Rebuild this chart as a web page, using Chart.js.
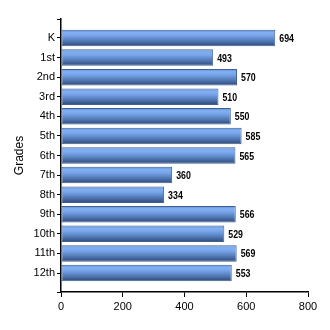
<!DOCTYPE html>
<html>
<head>
<meta charset="utf-8">
<style>
  html, body { margin: 0; padding: 0; background: #fff; }
  #wrap { width: 330px; height: 330px; }
</style>
<script src="https://cdn.jsdelivr.net/npm/chart.js@4/dist/chart.umd.min.js"></script>
</head>
<body>
<div id="wrap"><canvas id="gradesChart" width="330" height="330"></canvas></div>
<script>
// --- data ---
const grades = ['K', '1st', '2nd', '3rd', '4th', '5th', '6th', '7th', '8th', '9th', '10th', '11th', '12th'];
const counts = [694, 493, 570, 510, 550, 585, 565, 360, 334, 566, 529, 569, 553];
const xTicks = [0, 200, 400, 600, 800];

const BAR_PCT = 0.87;
const Y_MIN = -0.97, Y_MAX = grades.length - 1 + 0.97;

// vertical gradient for each bar, built from the y scale
function barFill(ctx) {
    const chart = ctx.chart;
    const yScale = chart.scales.y;
    if (!chart.chartArea || !yScale) return '#6a96d8';
    const mid = yScale.getPixelForValue(ctx.dataIndex);
    const step = Math.abs(yScale.getPixelForValue(1) - yScale.getPixelForValue(0));
    const half = step * BAR_PCT / 2;
    const g = chart.ctx.createLinearGradient(0, mid - half, 0, mid + half);
    g.addColorStop(0, '#5d88c9');
    g.addColorStop(0.18, '#82b0f3');
    g.addColorStop(0.35, '#78a5ea');
    g.addColorStop(0.7, '#4e75b0');
    g.addColorStop(1, '#2c4472');
    return g;
}

// value labels at the end of each bar (narrow bold look)
const valueLabels = {
    id: 'valueLabels',
    afterDatasetsDraw(chart) {
        const c = chart.ctx;
        const meta = chart.getDatasetMeta(0);
        c.font = 'bold 11px "Liberation Sans", Arial, sans-serif';
        c.fillStyle = '#000';
        c.textAlign = 'left';
        c.textBaseline = 'middle';
        meta.data.forEach((bar, i) => {
            c.save();
            c.translate(bar.x + 4, bar.y + 1);
            c.scale(0.8, 1);
            c.fillText(String(counts[i]), 0, 0);
            c.restore();
        });
    }
};

const tickFont = { family: '"Liberation Sans", Arial, sans-serif', size: 11 };

new Chart(document.getElementById('gradesChart'), {
    type: 'bar',
    data: {
        datasets: [{
            data: counts.map((v, i) => ({ x: v, y: i })),
            backgroundColor: barFill,
            borderColor: '#3f6196',
            borderWidth: 1,
            borderSkipped: false,
            barPercentage: BAR_PCT,
            categoryPercentage: 1
        }]
    },
    options: {
        indexAxis: 'y',
        responsive: false,
        animation: false,
        layout: { padding: { top: 19, right: 22, left: 0, bottom: 0 } },
        plugins: { legend: { display: false }, tooltip: { enabled: false } },
        scales: {
            x: {
                type: 'linear',
                min: 0,
                max: 800,
                afterBuildTicks: scale => { scale.ticks = xTicks.map(v => ({ value: v })); },
                afterFit: scale => { scale.height = 38; },
                grid: { drawOnChartArea: false, tickLength: 5, color: '#000', tickColor: '#000' },
                border: { color: '#000', width: 1.5 },
                ticks: { color: '#000', font: tickFont, padding: 3, maxRotation: 0 }
            },
            y: {
                type: 'linear',
                reverse: true,
                offset: false,
                min: Y_MIN,
                max: Y_MAX,
                afterBuildTicks: scale => {
                    scale.ticks = [Y_MIN].concat(grades.map((g, i) => i), [Y_MAX]).map(v => ({ value: v }));
                },
                afterFit: scale => { scale.width = 61; },
                grid: { drawOnChartArea: false, offset: false, tickLength: 4, color: '#000', tickColor: '#000' },
                border: { color: '#000', width: 1.5 },
                ticks: {
                    color: '#000',
                    font: tickFont,
                    padding: 2,
                    autoSkip: false,
                    callback: v => (Number.isInteger(v) ? grades[v] : '')
                },
                title: {
                    display: true,
                    text: 'Grades',
                    color: '#000',
                    font: { family: '"Liberation Sans", Arial, sans-serif', size: 12 },
                    padding: { top: 12, bottom: 0 }
                }
            }
        }
    },
    plugins: [valueLabels]
});
</script>
</body>
</html>
